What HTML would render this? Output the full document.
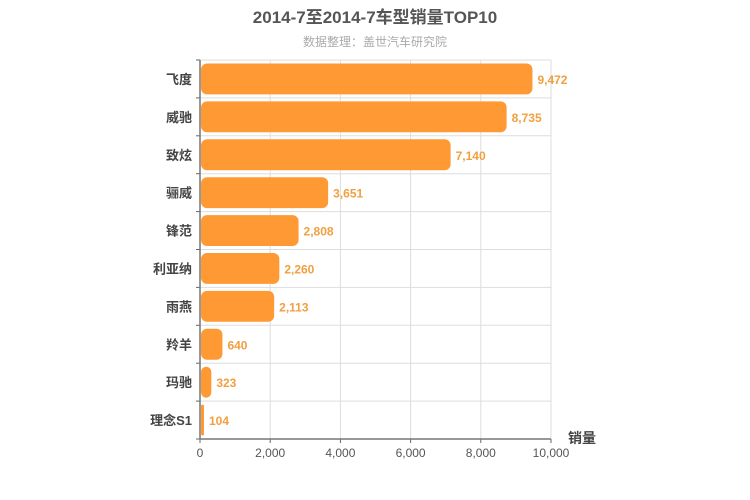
<!DOCTYPE html>
<html><head><meta charset="utf-8"><style>
body{margin:0;background:#fff;}
svg{display:block;font-family:"Liberation Sans","Noto Sans CJK SC",sans-serif;}
</style></head><body>
<svg id="chart" width="750" height="500">
<text x="375" y="23" text-anchor="middle" font-size="17" font-weight="bold" fill="#555">2014-7至2014-7车型销量TOP10</text>
<text x="375" y="46" text-anchor="middle" font-size="12" fill="#aaa">数据整理：盖世汽车研究院</text>
<g id="grid"></g><g id="bars"></g><g id="axes"></g>
</svg>
<script>
const categories=["飞度","威驰","致炫","骊威","锋范","利亚纳","雨燕","羚羊","玛驰","理念S1"];
const values=[9472,8735,7140,3651,2808,2260,2113,640,323,104];
const xTicks=[0,2000,4000,6000,8000,10000];
const L=200,R=551,T=60,B=439,MAX=10000;
const ns="http://www.w3.org/2000/svg";
const xs=v=>L+(v/MAX)*(R-L);
const rowH=(B-T)/categories.length;
const ys=i=>T+i*rowH;
function mk(tag,attrs,parent,text){const e=document.createElementNS(ns,tag);for(const k in attrs)e.setAttribute(k,attrs[k]);if(text!==undefined)e.textContent=text;parent.appendChild(e);return e;}
const grid=document.getElementById('grid'),bars=document.getElementById('bars'),axes=document.getElementById('axes');
xTicks.forEach(t=>{
  const g=mk('line',{x1:xs(t),x2:xs(t),y1:T,y2:B,stroke:'#ddd','stroke-width':1},grid);
  
  
  const tk=mk('line',{x1:xs(t),x2:xs(t),y1:B,y2:B+4,stroke:'#666'},axes);
  
  
  const lb=mk('text',{x:xs(t),y:B+18,'text-anchor':'middle','font-size':12,fill:'#555'},axes,t.toLocaleString('en-US'));
  
  
});
for(let i=0;i<=categories.length;i++){
  const g=mk('line',{x1:L,x2:R,y1:ys(i),y2:ys(i),stroke:'#ddd'},grid);
  
  
  const tk=mk('line',{x1:L-4,x2:L,y1:ys(i),y2:ys(i),stroke:'#666'},axes);
  
  
}
categories.forEach((c,i)=>{
  const y=ys(i)+3.5,h=rowH-7,w=Math.max(xs(values[i])-L-1,3);
  const r=mk('rect',{x:L+1,y:y,width:w,height:h,rx:Math.min(6,w/2),fill:'#FF9933'},bars);
  
  
  const v=mk('text',{x:L+1+w+5,y:ys(i)+rowH/2+5,'font-size':12,'font-weight':'bold',fill:'#F0A040'},bars,values[i].toLocaleString('en-US'));
  
  
  const cl=mk('text',{x:L-8,y:ys(i)+rowH/2+5,'text-anchor':'end','font-size':13,'font-weight':'bold',fill:'#444'},axes,c);
  
  
});
const ax=mk('line',{x1:L,x2:R,y1:B,y2:B,stroke:'#777','stroke-width':1.5},axes);


const ay=mk('line',{x1:L,x2:L,y1:T,y2:B,stroke:'#777','stroke-width':1.5},axes);


const at=mk('text',{x:596,y:443,'text-anchor':'end','font-size':14,'font-weight':'bold',fill:'#444'},axes,'销量');


</script>
</body></html>
